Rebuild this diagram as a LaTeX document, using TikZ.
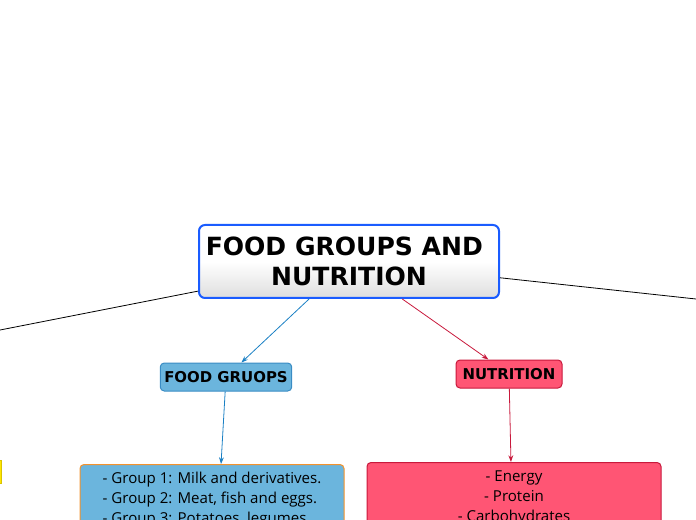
\documentclass[tikz,border=0pt]{standalone}
\usepackage{fontspec}
\setmainfont{Open Sans}
\newfontfamily\headfont{DejaVu Sans}
\usepackage{xcolor}
\usetikzlibrary{arrows.meta}

\definecolor{hubedge}{HTML}{1A5CFF}
\definecolor{grpblue}{HTML}{6BB5DD}
\definecolor{grpedge}{HTML}{3A8CC4}
\definecolor{grporange}{HTML}{F4922C}
\definecolor{linkblue}{HTML}{1A80C4}
\definecolor{nutred}{HTML}{FF5574}
\definecolor{nutedge}{HTML}{C8193C}
\definecolor{sideyellow}{HTML}{FFE600}

\begin{document}
\begin{tikzpicture}[x=0.75pt,y=-0.75pt,>={Stealth[length=5pt,width=3.6pt]},line width=0.6pt,every node/.style={font=\fontsize{11.3}{15}\selectfont}]
\tikzstyle{hub}=[draw=hubedge,line width=1.5pt,rounded corners=4.5pt,top color=white,bottom color=black!13,middle color=white,minimum width=225pt,minimum height=54.75pt,align=center,font=\headfont\bfseries\fontsize{18.8}{23}\selectfont]
\tikzstyle{topic}=[draw,line width=0.75pt,rounded corners=3pt,minimum height=21pt,inner xsep=3pt,font=\headfont\bfseries\fontsize{11.2}{13}\selectfont]
\tikzstyle{detail}=[draw,line width=0.75pt,rounded corners=3pt,anchor=north,inner ysep=6pt]
\useasboundingbox (0,0) rectangle (696,520);

\node[hub] (central) at (349,261.5) {FOOD GROUPS AND\hbox to 7pt{}\\NUTRITION};
\node[topic,fill=grpblue,draw=grpedge,minimum width=97.5pt] (foodgroups) at (226,377) {FOOD GRUOPS};
\node[topic,fill=nutred,draw=nutedge,minimum width=79.5pt] (nutrition) at (509,374) {NUTRITION};
\node[detail,fill=grpblue,draw=grporange,minimum width=198pt,align=left,text depth=187pt] (groups) at (212,464) {- Group 1: Milk and derivatives.\\- Group 2: Meat, fish and eggs.\\- Group 3: Potatoes, legumes};
\node[detail,fill=nutred,draw=nutedge,minimum width=220.5pt,align=center,text depth=156pt] (nutrients) at (514,462) {- Energy\\- Protein\\- Carbohydrates};
\node[draw=sideyellow!85!black,fill=sideyellow,minimum width=60pt,minimum height=17.25pt,anchor=east] (sidebox) at (2,471.5) {};
\coordinate (leftbranch) at (-200,369.3);
\coordinate (rightbranch) at (900,321.1);

\draw (central) -- (leftbranch);
\draw (central) -- (rightbranch);
\draw[->,linkblue] (central) -- (foodgroups);
\draw[->,nutedge] (central) -- (nutrition);
\draw[->,linkblue] (foodgroups) -- (groups);
\draw[->,nutedge] (nutrition) -- (nutrients);
\end{tikzpicture}
\end{document}
